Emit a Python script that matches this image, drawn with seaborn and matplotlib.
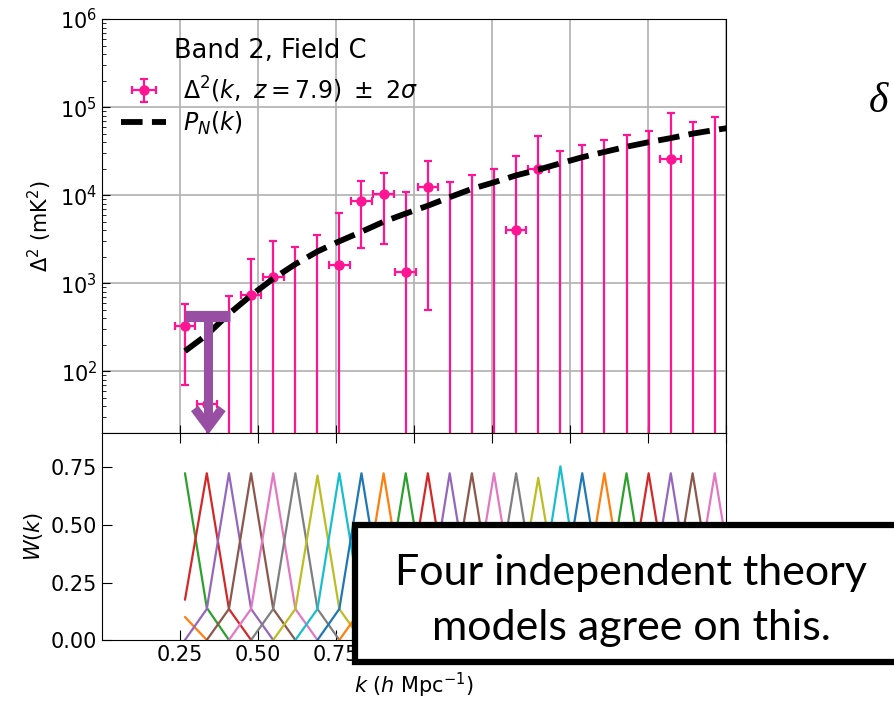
import numpy as np
import pandas as pd
import matplotlib
matplotlib.use("Agg")
import matplotlib.pyplot as plt
from matplotlib.patches import Rectangle
import seaborn as sns

# ---------------- data ----------------
k_bins = [0.266, 0.336, 0.407, 0.478, 0.549, 0.620, 0.691, 0.761, 0.832, 0.903,
          0.974, 1.045, 1.115, 1.186, 1.257, 1.328, 1.399, 1.470, 1.540, 1.611,
          1.682, 1.753, 1.824, 1.894, 1.965]
k_extra = [2.036]
k_halfwidth = 0.033

delta2 = [325, 43, -150, 731, 1170, -500, -700, 1600, 8550, 10450,
          1340, 12400, -3000, -3500, -4000, 4040, 19600, -6000, -7000, -8000,
          -9000, -10000, 25600, -13000, -15000]
err2sigma = [255, 385, 870, 1180, 1830, 3070, 4200, 4700, 6000, 7650,
             9460, 11900, 17300, 20250, 23900, 23660, 27200, 37900, 43700, 49900,
             57100, 63800, 60500, 81100, 91400]

pn_vals = [170, 260, 450, 730, 1130, 1650, 2300, 3000, 3850, 5000,
           6200, 7600, 9500, 11800, 14000, 16800, 19500, 23000, 27000, 31000,
           35500, 40000, 44500, 50000, 55000, 60000]

# window functions: index of bin, peak value, value at previous / next bin
w_index = list(range(-1, 25))
w_peak = [np.nan, 0.725, 0.725, 0.725, 0.725, 0.725, 0.725, 0.715, 0.725, 0.725,
          0.725, 0.725, 0.725, 0.725, 0.725, 0.725, 0.725, 0.705, 0.755, 0.725,
          0.725, 0.725, 0.725, 0.725, 0.725, 0.725]
w_left = [np.nan, np.nan, 0.175, 0.135, 0.135, 0.135, 0.135, 0.135, 0.135, 0.135,
          0.135, 0.135, 0.135, 0.135, 0.135, 0.135, 0.135, 0.135, 0.135, 0.135,
          0.135, 0.135, 0.135, 0.135, 0.135, 0.135]
w_right = [0.10, 0.14, 0.135, 0.135, 0.135, 0.135, 0.135, 0.135, 0.135, 0.135,
           0.135, 0.135, 0.135, 0.135, 0.135, 0.135, 0.135, 0.135, 0.135, 0.135,
           0.135, 0.135, 0.135, 0.135, 0.135, 0.135]

# upper-limit annotation
ul_k = 0.341
ul_value = 428
ul_bar = [0.266, 0.409]
ul_tip = 23.5
ul_arm_k = [0.297, 0.385]
ul_arm_y = 38

xticks = [0.25, 0.50, 0.75, 1.00, 1.25, 1.50, 1.75, 2.00]

# ---------------- style ----------------
sns.set_style("ticks")
plt.rcParams["font.family"] = ["DejaVu Sans"]
plt.rcParams["mathtext.fontset"] = "dejavusans"
for key in ["text.color", "axes.labelcolor", "xtick.color", "ytick.color",
            "axes.edgecolor"]:
    plt.rcParams[key] = "black"

pink = "#ff1493"
purple = "#984ea3"
tab10 = sns.color_palette("tab10", 10)

fig = plt.figure(figsize=(8.95, 7.02), dpi=100)
ax1 = fig.add_axes([0.1140, 0.3832, 0.6968, 0.5897])
ax2 = fig.add_axes([0.1140, 0.0883, 0.6968, 0.2949], sharex=ax1)

# ---------------- top panel ----------------
ax1.set_yscale("log")
ax1.grid(True, which="major", color="#b0b0b0", lw=1.2)
ax1.set_axisbelow(True)

eb = ax1.errorbar(k_bins, delta2, yerr=err2sigma, xerr=k_halfwidth, fmt="o",
                  color=pink, ms=6.5, elinewidth=1.6, capsize=3, capthick=1.6,
                  zorder=3)

k_grid = k_bins + k_extra
sns.lineplot(x=k_grid, y=pn_vals, ax=ax1, color="black", lw=4.2,
             linestyle="--", zorder=4, sort=False, estimator=None)
pn_line = ax1.lines[-1]

# upper-limit arrow
ax1.plot(ul_bar, [ul_value, ul_value], color=purple, lw=8, solid_capstyle="butt",
         zorder=6, clip_on=False)
ax1.plot([ul_k, ul_k], [ul_value, ul_tip * 1.15], color=purple, lw=6.5,
         solid_capstyle="butt", zorder=6, clip_on=False)
ax1.plot([ul_arm_k[0], ul_k, ul_arm_k[1]], [ul_arm_y, ul_tip, ul_arm_y],
         color=purple, lw=6.5, solid_joinstyle="miter", solid_capstyle="butt",
         zorder=6, clip_on=False)

ax1.set_ylim(20, 1e6)
ax1.set_xlim(0, 2.0)
ax1.set_ylabel(r"$\Delta^2$ (mK$^2$)", fontsize=15)
ax1.tick_params(axis="both", which="both", direction="in", labelsize=15)
ax1.tick_params(axis="both", which="major", length=6)
ax1.tick_params(axis="y", which="minor", length=3)
ax1.tick_params(axis="x", labelbottom=False)
for s in ax1.spines.values():
    s.set_visible(True)
    s.set_color("black")

leg = ax1.legend(handles=[eb, pn_line],
                 labels=[r"$\Delta^2(k,\ z = 7.9)\ \pm\ 2\sigma$", r"$P_N(k)$"],
                 title="Band 2, Field C", loc="upper left", frameon=False,
                 fontsize=17, title_fontsize=18.5, borderaxespad=0.42,
                 labelspacing=0.2, handlelength=1.9, handletextpad=0.7)
leg._legend_box.sep = 7.2

# ---------------- bottom panel ----------------
rows = []
for j, pk, lo, ro in zip(w_index, w_peak, w_left, w_right):
    for i, kk in enumerate(k_grid):
        d = i - j
        if d == 0:
            w = pk
        elif d == -1:
            w = lo
        elif d == 1:
            w = ro
        elif abs(d) == 2:
            w = 0.0
        else:
            continue
        if np.isnan(w):
            continue
        rows.append((j, kk, w))
wdf = pd.DataFrame(rows, columns=["win", "k", "W"])
palette = {j: tab10[(j + 2) % 10] for j in w_index}
sns.lineplot(data=wdf, x="k", y="W", hue="win", palette=palette, legend=False,
             lw=1.6, ax=ax2, sort=False, estimator=None)

ax2.set_ylim(0, 0.9)
ax2.set_xlim(0, 2.0)
ax2.set_xticks(xticks)
ax2.set_xticklabels([f"{t:.2f}" for t in xticks])
ax2.set_yticks([0.0, 0.25, 0.5, 0.75])
ax2.set_yticklabels(["0.00", "0.25", "0.50", "0.75"])
ax2.tick_params(axis="both", direction="in", length=7, labelsize=15, top=True)
ax2.set_xlabel(r"$k$ ($h$ Mpc$^{-1}$)", fontsize=15)
ax2.set_ylabel(r"$W(k)$", fontsize=15)
for s in ax2.spines.values():
    s.set_visible(True)
    s.set_color("black")

# ---------------- slide overlays ----------------
fig.add_artist(Rectangle((0.3966, 0.057), 0.7, 0.195, transform=fig.transFigure,
                         facecolor="white", edgecolor="black", lw=4.5, zorder=10))
fig.text(0.705, 0.184, "Four independent theory", ha="center", va="center",
         fontsize=31, family=["Lato", "DejaVu Sans"], color="black", zorder=11)
fig.text(0.705, 0.106, "models agree on this.", ha="center", va="center",
         fontsize=31, family=["Lato", "DejaVu Sans"], color="black", zorder=11)
fig.text(0.9815, 0.8405, "δ", ha="center", va="baseline", fontsize=30,
         family=["Liberation Serif", "DejaVu Serif"], style="italic", color="black")

fig.savefig("out.png", dpi=100)
